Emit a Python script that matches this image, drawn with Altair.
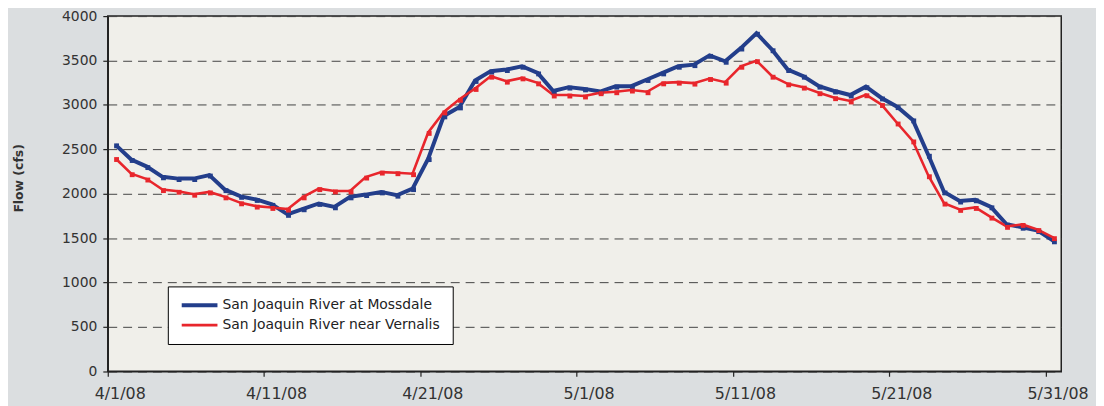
import altair as alt
import pandas as pd

# ---- data ----
start_date = "2008-04-01 12:00"   # daily values, plotted mid-day like an Excel category axis
n_days = 61

mossdale = [2550, 2385, 2305, 2190, 2170, 2170, 2210, 2045, 1970, 1935,
            1880, 1767, 1830, 1890, 1852, 1964, 1990, 2020, 1983, 2057,
            2395, 2876, 2977, 3275, 3380, 3398, 3435, 3360, 3156, 3200,
            3180, 3150, 3211, 3211, 3286, 3360, 3435, 3453, 3558, 3491,
            3640, 3807, 3621, 3398, 3323, 3211, 3156, 3111, 3205, 3078,
            2980, 2831, 2433, 2020, 1917, 1931, 1852, 1656, 1622, 1584,
            1469]

vernalis = [2396, 2225, 2165, 2046, 2027, 1994, 2020, 1964, 1897, 1860,
            1845, 1826, 1964, 2057, 2031, 2031, 2187, 2243, 2236, 2225,
            2690, 2921, 3063, 3185, 3323, 3267, 3304, 3248, 3111, 3111,
            3100, 3137, 3148, 3167, 3148, 3248, 3256, 3245, 3297, 3256,
            3435, 3498, 3323, 3237, 3200, 3137, 3081, 3044, 3114, 3004,
            2796, 2594, 2202, 1894, 1823, 1845, 1736, 1632, 1654, 1596,
            1505]

series_names = ["San Joaquin River at Mossdale", "San Joaquin River near Vernalis"]
series_colors = ["#233e8b", "#e8262c"]
series_widths = [4.0, 2.6]

y_ticks = [0, 500, 1000, 1500, 2000, 2500, 3000, 3500, 4000]
x_tick_days = [(4, 1), (4, 11), (4, 21), (5, 1), (5, 11), (5, 21), (5, 31)]

# ---- build table ----
dates = pd.date_range(start_date, periods=n_days, freq="D")
rows = []
for name, vals in zip(series_names, [mossdale, vernalis]):
    for d, v in zip(dates, vals):
        rows.append({"date": d.strftime("%Y-%m-%dT%H:%M:%S"), "flow": v, "series": name})
df = pd.DataFrame(rows)

FONT = "DejaVu Sans"

x_values = [alt.DateTime(year=2008, month=m, date=d) for m, d in x_tick_days]
x_scale = alt.Scale(domain=[alt.DateTime(year=2008, month=4, date=1),
                            alt.DateTime(year=2008, month=6, date=1)])
y_scale = alt.Scale(domain=[0, 4000], nice=False)

x_axis = alt.Axis(values=x_values, format="%-m/%-d/%y", title=None, grid=False,
                  labelFont=FONT, labelFontSize=16, labelColor="#333",
                  labelPadding=9, labelOffset=12, labelFlush=False, labelOverlap=False,
                  tickSize=5, tickColor="#222", tickWidth=1.2,
                  domainColor="#222", domainWidth=1.5)

y_axis = alt.Axis(values=y_ticks, format="d", grid=True, gridDash=[9, 6], gridColor="#444",
                  gridWidth=1,
                  labelFont=FONT, labelFontSize=14, labelColor="#333", labelPadding=6,
                  tickSize=5, tickColor="#222", tickWidth=1.2,
                  domainColor="#222", domainWidth=1.5,
                  title="Flow (cfs)", titleFont=FONT, titleFontWeight="bold",
                  titleFontSize=12.5, titleColor="#333", titleAngle=270,
                  titleX=-90, titleY=163, titleAlign="center", titleBaseline="middle")

legend = alt.Legend(orient="none", legendX=60.5, legendY=272.3, title=None,
                    fillColor="#ffffff", strokeColor="#000000", padding=12,
                    rowPadding=6, labelFont=FONT, labelFontSize=14, labelColor="#222",
                    labelLimit=400, labelOffset=3, symbolType="stroke",
                    symbolSize=1296, clipHeight=14)

lines = alt.Chart(df).mark_line().encode(
    x=alt.X("date:T", scale=x_scale, axis=x_axis),
    y=alt.Y("flow:Q", scale=y_scale, axis=y_axis),
    color=alt.Color("series:N", scale=alt.Scale(domain=series_names, range=series_colors),
                    legend=legend),
    strokeWidth=alt.StrokeWidth("series:N",
                                scale=alt.Scale(domain=series_names, range=series_widths),
                                legend=legend),
)

points = alt.Chart(df).mark_square(size=24, opacity=1, xOffset=1, yOffset=1).encode(
    x=alt.X("date:T", scale=x_scale),
    y=alt.Y("flow:Q", scale=y_scale),
    fill=alt.Fill("series:N", scale=alt.Scale(domain=series_names, range=series_colors),
                  legend=None),
)

chart = alt.layer(lines, points).properties(
    width=960.5,
    height=357.8,
    autosize=alt.AutoSizeParams(type="none"),
    padding={"left": 100.5, "top": 6.7, "right": 35, "bottom": 33},
    background="#dbdee0",
).configure_view(fill="#f0efea", stroke="#222", strokeWidth=1.5)

chart.save("out.html", embed_options={"renderer": "svg", "actions": False})
